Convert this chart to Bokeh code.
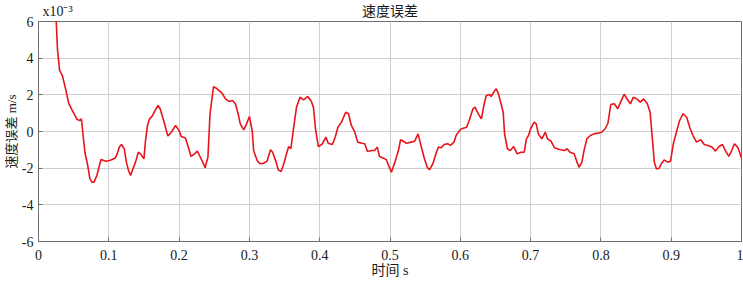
from bokeh.plotting import figure
from bokeh.models import LinearAxis, FixedTicker, Range1d
from bokeh.embed import file_html
from bokeh.resources import INLINE

# ---- data (velocity error, in units of 1e-3 m/s) ----
time_s = [0.024, 0.027, 0.030, 0.034, 0.039, 0.043, 0.048, 0.052, 0.055, 0.059, 0.061, 0.063, 0.066,
          0.070, 0.073, 0.076, 0.079, 0.083, 0.086, 0.089, 0.093, 0.096, 0.101, 0.105, 0.109, 0.112,
          0.115, 0.118, 0.122, 0.125, 0.128, 0.131, 0.134, 0.138, 0.142, 0.145, 0.150, 0.152, 0.155,
          0.158, 0.162, 0.166, 0.170, 0.173, 0.178, 0.184, 0.189, 0.195, 0.200, 0.203, 0.209, 0.213,
          0.217, 0.222, 0.226, 0.229, 0.233, 0.237, 0.241, 0.244, 0.249, 0.254, 0.261, 0.266, 0.271,
          0.276, 0.280, 0.284, 0.287, 0.292, 0.296, 0.300, 0.304, 0.306, 0.311, 0.315, 0.320, 0.325,
          0.330, 0.333, 0.338, 0.341, 0.345, 0.349, 0.352, 0.356, 0.359, 0.363, 0.367, 0.372, 0.377,
          0.383, 0.388, 0.391, 0.394, 0.398, 0.403, 0.409, 0.412, 0.418, 0.422, 0.426, 0.431, 0.437,
          0.441, 0.445, 0.450, 0.454, 0.460, 0.464, 0.468, 0.474, 0.478, 0.482, 0.485, 0.490, 0.495,
          0.498, 0.502, 0.507, 0.512, 0.515, 0.519, 0.523, 0.530, 0.535, 0.540, 0.544, 0.549, 0.553,
          0.556, 0.561, 0.566, 0.569, 0.573, 0.577, 0.582, 0.586, 0.591, 0.594, 0.599, 0.602, 0.609,
          0.613, 0.618, 0.621, 0.625, 0.630, 0.634, 0.637, 0.642, 0.644, 0.649, 0.651, 0.654, 0.658,
          0.661, 0.663, 0.667, 0.671, 0.676, 0.681, 0.686, 0.691, 0.694, 0.697, 0.700, 0.705, 0.708,
          0.711, 0.716, 0.721, 0.724, 0.729, 0.734, 0.741, 0.748, 0.752, 0.756, 0.762, 0.766, 0.769,
          0.773, 0.776, 0.780, 0.785, 0.790, 0.796, 0.801, 0.806, 0.810, 0.814, 0.819, 0.824, 0.828,
          0.833, 0.838, 0.842, 0.846, 0.851, 0.856, 0.861, 0.866, 0.870, 0.873, 0.876, 0.879, 0.883,
          0.886, 0.890, 0.895, 0.899, 0.903, 0.908, 0.912, 0.917, 0.922, 0.927, 0.931, 0.936, 0.942,
          0.947, 0.952, 0.958, 0.963, 0.968, 0.973, 0.977, 0.982, 0.986, 0.990, 0.995, 1.000]
vel_err_e3 = [7.0, 4.5, 3.33, 3.05, 2.24, 1.53, 1.15, 0.87, 0.65, 0.6, 0.69, -0.04, -1.13,
              -1.85, -2.56, -2.76, -2.76, -2.4, -1.95, -1.53, -1.58, -1.62, -1.58, -1.53, -1.45, -1.22,
              -0.85, -0.71, -0.94, -1.67, -2.13, -2.4, -2.07, -1.67, -1.13, -1.22, -1.49, -0.58, 0.33,
              0.69, 0.85, 1.15, 1.42, 1.24, 0.6, -0.25, -0.04, 0.33, 0.05, -0.27, -0.35, -0.85,
              -1.36, -1.22, -1.07, -1.31, -1.62, -1.98, -1.4, 0.97, 2.45, 2.33, 2.09, 1.78, 1.64,
              1.69, 1.51, 0.97, 0.42, 0.09, 0.42, 0.82, 0.05, -1.04, -1.58, -1.76, -1.73, -1.62,
              -1.0, -1.13, -1.67, -2.09, -2.18, -1.76, -1.31, -0.82, -0.94, 0.23, 1.33, 1.87, 1.73,
              1.91, 1.65, 1.33, 0.15, -0.82, -0.71, -0.31, -0.64, -0.71, -0.31, 0.23, 0.51, 1.05,
              0.97, 0.33, -0.04, -0.58, -0.64, -0.67, -1.09, -1.04, -1.04, -0.85, -1.36, -1.44, -1.55,
              -1.85, -2.22, -1.67, -1.04, -0.45, -0.53, -0.64, -0.58, -0.53, -0.13, -0.76, -1.49, -1.95,
              -2.09, -1.76, -1.13, -0.85, -0.89, -0.71, -0.67, -0.76, -0.58, -0.22, 0.05, 0.15, 0.23,
              0.64, 1.24, 1.33, 1.0, 0.69, 1.51, 1.96, 2.02, 1.91, 2.24, 2.33, 2.09, 1.51,
              1.05, -0.13, -0.94, -1.04, -0.82, -1.22, -1.13, -1.13, -0.4, -0.22, 0.15, 0.51, 0.42,
              -0.13, -0.4, -0.04, -0.4, -0.53, -0.89, -0.98, -1.04, -0.94, -1.13, -1.22, -1.67, -1.95,
              -1.67, -1.04, -0.4, -0.22, -0.13, -0.09, -0.04, 0.15, 0.45, 1.47, 1.51, 1.24, 1.6,
              2.03, 1.73, 1.51, 1.87, 1.78, 1.6, 1.78, 1.51, 1.05, -0.31, -1.67, -2.04, -2.0,
              -1.76, -1.55, -1.67, -1.62, -0.67, 0.05, 0.6, 0.97, 0.78, 0.15, -0.22, -0.58, -0.45,
              -0.71, -0.76, -0.85, -1.07, -0.82, -0.71, -1.04, -1.36, -1.04, -0.67, -0.89, -1.44]

x_ticks = [0, 0.1, 0.2, 0.3, 0.4, 0.5, 0.6, 0.7, 0.8, 0.9, 1]
x_tick_labels = ["0", "0.1", "0.2", "0.3", "0.4", "0.5", "0.6", "0.7", "0.8", "0.9", "1"]
y_ticks = [-6, -4, -2, 0, 2, 4, 6]
y_tick_labels = ["-6", "-4", "-2", "0", "2", "4", "6"]

title_text = "速度误差"
x_label_text = "时间 s"
y_label_text = "速度误差 m/s"
scale_text = "x10⁻³"

# layout constants (where the title-row texts are centred along x)
SCALE_TEXT_X = 0.027
TITLE_X = 0.5

SERIF = "Liberation Serif, serif"
MIXED = "Liberation Serif, Noto Sans CJK SC"
AXIS_COL = "#6e6e6e"
GRID_COL = "#cfcfcf"
TEXT_COL = "#1a1a1a"

p = figure(width=743, height=281, output_backend="svg", toolbar_location=None,
           x_range=Range1d(0, 1), y_range=Range1d(-6, 6),
           min_border_left=36, min_border_right=2, min_border_top=21, min_border_bottom=40)
p.background_fill_color = "white"
p.border_fill_color = "white"
p.outline_line_color = AXIS_COL
p.outline_line_width = 1


def style_axis(ax, ticks, labels, standoff):
    ax.ticker = FixedTicker(ticks=ticks)
    ax.major_label_overrides = dict(zip(ticks, labels))
    ax.major_tick_in = 4
    ax.major_tick_out = 0
    ax.minor_tick_line_color = None
    ax.axis_line_color = AXIS_COL
    ax.major_tick_line_color = AXIS_COL
    ax.major_label_text_font = SERIF
    ax.major_label_text_font_size = "14px"
    ax.major_label_text_color = TEXT_COL
    ax.major_label_standoff = standoff
    ax.axis_label_text_font = MIXED
    ax.axis_label_text_font_style = "normal"
    ax.axis_label_text_color = TEXT_COL


style_axis(p.xaxis[0], x_ticks, x_tick_labels, 8)
style_axis(p.yaxis[0], y_ticks, y_tick_labels, 5)
p.xaxis.axis_label = x_label_text
p.xaxis.axis_label_standoff = 0
p.xaxis.axis_label_text_font_size = "14px"
p.yaxis.axis_label = y_label_text
p.yaxis.axis_label_standoff = 0
p.yaxis.axis_label_text_font_size = "13px"

# title row: the "x10^-3" multiplier and the chart title, on an axis above the frame
top_ax = LinearAxis()
top_ax.ticker = FixedTicker(ticks=[SCALE_TEXT_X, TITLE_X])
top_ax.major_label_overrides = {SCALE_TEXT_X: scale_text, TITLE_X: title_text}
top_ax.major_tick_line_color = None
top_ax.minor_tick_line_color = None
top_ax.axis_line_color = None
top_ax.major_tick_out = 0
top_ax.major_tick_in = 0
top_ax.major_label_standoff = 3
top_ax.major_label_text_font = MIXED
top_ax.major_label_text_font_size = "14px"
top_ax.major_label_text_color = TEXT_COL
p.add_layout(top_ax, "above")

p.xgrid.ticker = FixedTicker(ticks=x_ticks)
p.ygrid.ticker = FixedTicker(ticks=y_ticks)
p.grid.grid_line_color = GRID_COL
p.grid.grid_line_width = 1

p.line(time_s, vel_err_e3, line_color="#e8141c", line_width=1.6)

open("out.html", "w").write(file_html(p, INLINE))
